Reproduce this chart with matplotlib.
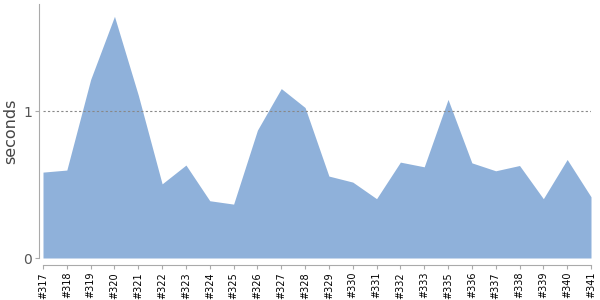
import numpy as np
import matplotlib
matplotlib.use("Agg")
import matplotlib.pyplot as plt

builds = ["#317", "#318", "#319", "#320", "#321", "#322", "#323", "#324",
          "#325", "#326", "#327", "#328", "#329", "#330", "#331", "#332",
          "#333", "#335", "#336", "#337", "#338", "#339", "#340", "#341"]
seconds = [0.585, 0.599, 1.216, 1.646, 1.109, 0.505, 0.633, 0.390,
           0.367, 0.871, 1.154, 1.025, 0.558, 0.517, 0.404, 0.653,
           0.621, 1.080, 0.648, 0.594, 0.630, 0.404, 0.671, 0.417]
yticks = [0, 1]

fig = plt.figure(figsize=(6, 3), dpi=100)
ax = fig.add_axes([43 / 600, 42 / 300, 548 / 600, 254 / 300])

# spines first: moving them resets the ticks
for side in ["top", "right"]:
    ax.spines[side].set_visible(False)
ax.spines["left"].set_position(("outward", 3))
ax.spines["bottom"].set_position(("outward", 5))
for side in ["left", "bottom"]:
    ax.spines[side].set_color("#aaaaaa")

x = np.arange(len(builds))
ax.fill_between(x, 0, seconds, color="#8fb1da", linewidth=0)
ax.axhline(1, color="#888888", linestyle=(0, (2, 2)), linewidth=0.8)

ax.set_xlim(0, len(builds) - 1)
ax.set_ylim(0, 1.73)
ax.set_xticks(x)
ax.set_xticklabels(builds, rotation=90, fontsize=7, color="black")
ax.set_yticks(yticks)
ax.set_yticklabels([str(v) for v in yticks], fontsize=10, color="#555555")
ax.set_ylabel("seconds", fontsize=11.5, color="#444444")
ax.yaxis.set_label_coords(-0.046, 0.5)
ax.tick_params(axis="both", color="#aaaaaa", length=3, width=0.8, pad=2)

fig.savefig("out.png", dpi=100)
plt.close(fig)
